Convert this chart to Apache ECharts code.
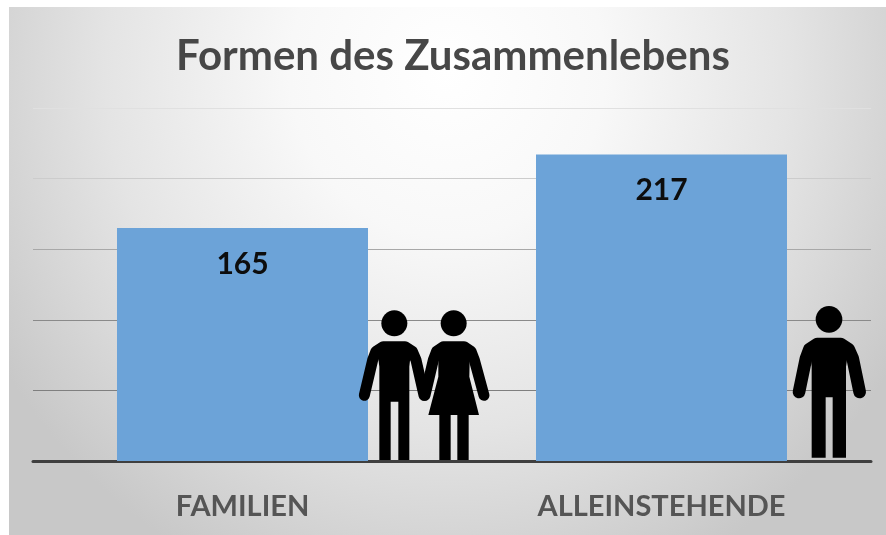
<!DOCTYPE html>
<html>
<head>
<meta charset="utf-8">
<style>
  html, body { margin: 0; padding: 0; background: #fff; }
  #panel {
    position: absolute; left: 9px; top: 7px; width: 877px; height: 528px;
    background: radial-gradient(ellipse 60% 105% at 50% 12%, #ffffff 0%, #f8f8f8 30%, #e4e4e4 65%, #c8c8c8 100%);
  }
  #chart { position: absolute; left: 0; top: 0; width: 886px; height: 535px; }
</style>
</head>
<body>
<div id="panel"></div>
<div id="chart"></div>
<script src="https://cdn.jsdelivr.net/npm/echarts@6/dist/echarts.min.js"></script>
<script>
const titleText = 'Formen des Zusammenlebens';
const categories = ['FAMILIEN', 'ALLEINSTEHENDE'];
const values = [165, 217];
const gridLineColors = ['#3f3f3f', '#7f7f7f', '#8a8a8a', '#a8a8a8', '#cccccc', '#e0e0e0'];

const fontName = 'Lato, "Open Sans", sans-serif';

// Strichfiguren, lokale Koordinaten sind 3x Pixel
function blackLine(points, width) {
  return {
    type: 'polyline',
    z: 10,
    shape: { points: points },
    style: { stroke: '#000', fill: null, lineWidth: width, lineCap: 'round', lineJoin: 'round' }
  };
}
function blackPoly(points) {
  return { type: 'polygon', z: 10, shape: { points: points }, style: { fill: '#000' } };
}
function blackHead(cx, cy, r) {
  return { type: 'circle', z: 10, shape: { cx: cx, cy: cy, r: r }, style: { fill: '#000' } };
}

const couple = {
  type: 'group', x: 340, y: 290, scaleX: 1 / 3, scaleY: 1 / 3,
  children: [
    blackHead(163, 100, 39),
    blackLine([[73, 316], [98, 210], [108, 184], [130, 170], [195, 170], [217, 184], [228, 210], [252, 316]], 33),
    blackPoly([[110, 165], [215, 165], [208, 230], [208, 510], [175, 510], [175, 335], [152, 335], [152, 510], [118, 510], [118, 230]]),
    blackHead(341, 100, 39),
    blackLine([[255, 316], [280, 210], [290, 184], [310, 170], [372, 170], [393, 184], [403, 210], [432, 316]], 33),
    blackPoly([[295, 165], [390, 165], [388, 260], [417, 375], [386, 375], [386, 510], [352, 510], [352, 375], [332, 375], [332, 510], [298, 510], [298, 375], [265, 375], [295, 260]])
  ]
};

const single = {
  type: 'group', x: 770, y: 290, scaleX: 1 / 3, scaleY: 1 / 3,
  children: [
    blackHead(177, 88, 40),
    blackLine([[87, 306], [108, 205], [118, 178], [142, 162], [212, 162], [236, 178], [248, 205], [269, 306]], 38),
    blackPoly([[118, 160], [238, 160], [228, 230], [228, 503], [188, 503], [188, 322], [167, 322], [167, 503], [125, 503], [125, 230]])
  ]
};

const myChart = echarts.init(document.getElementById('chart'));
const option = {
  backgroundColor: 'transparent',
  animation: false,
  title: {
    text: titleText,
    top: 30,
    left: 448,
    textAlign: 'center',
    textStyle: { fontFamily: fontName, fontSize: 42, fontWeight: 'bold', color: '#474747' }
  },
  grid: { left: 33, right: 15, top: 108, bottom: 74 },
  xAxis: {
    type: 'category',
    data: categories,
    axisTick: { show: false },
    axisLine: { show: true, z: 5, lineStyle: { color: '#3f3f3f', width: 3 } },
    axisLabel: { margin: 31, fontFamily: fontName, fontSize: 29, fontWeight: 'bold', color: '#555555' }
  },
  yAxis: {
    type: 'value',
    min: 0,
    max: 250,
    interval: 50,
    axisLabel: { show: false },
    axisLine: { show: false },
    axisTick: { show: false },
    splitLine: { lineStyle: { color: gridLineColors, width: 1 } }
  },
  series: [
    {
      type: 'bar',
      data: values,
      barWidth: 251,
      itemStyle: { color: '#6CA3D8' },
      label: {
        show: true,
        position: 'insideTop',
        distance: 21,
        fontFamily: fontName,
        fontSize: 30,
        fontWeight: 'bold',
        color: '#0d0d0d'
      }
    }
  ],
  graphic: { elements: [couple, single] }
};
myChart.setOption(option);
</script>
</body>
</html>
